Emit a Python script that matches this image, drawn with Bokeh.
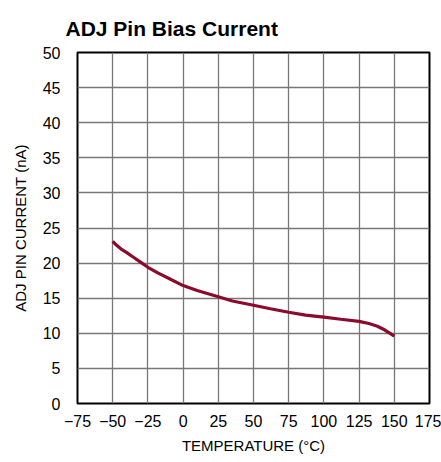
from bokeh.plotting import figure
from bokeh.models import FixedTicker, Range1d
from bokeh.embed import file_html
from bokeh.resources import INLINE

temperature = [-50, -47, -44, -40, -35, -30, -25, -18, -10, 0, 10, 25, 35, 50, 62, 75, 87, 100, 112, 125, 132, 138, 143, 147, 150]
current = [23.1, 22.5, 22.0, 21.5, 20.8, 20.1, 19.4, 18.6, 17.8, 16.8, 16.1, 15.2, 14.6, 14.0, 13.5, 13.0, 12.6, 12.3, 12.0, 11.7, 11.4, 11.0, 10.5, 10.0, 9.6]
x_ticks = [-75, -50, -25, 0, 25, 50, 75, 100, 125, 150, 175]
y_ticks = [0, 5, 10, 15, 20, 25, 30, 35, 40, 45, 50]
title_text = "ADJ Pin Bias Current"

FONT = "Liberation Sans"

p = figure(width=441, height=462, output_backend="svg", toolbar_location=None,
           x_range=Range1d(-75, 175), y_range=Range1d(0, 50),
           min_border_left=77, min_border_right=12, min_border_top=52, min_border_bottom=59)
p.title.text = title_text
p.title.text_font = FONT
p.title.text_font_size = "21px"
p.title.text_font_style = "bold"
p.title.offset = -12
p.title.vertical_align = "bottom"
p.title.standoff = 26
p.title.text_color = "black"

p.line(temperature, current, line_color="#8c0a2e", line_width=3.2)

p.xaxis.ticker = FixedTicker(ticks=x_ticks)
p.yaxis.ticker = FixedTicker(ticks=y_ticks)
p.xaxis.major_label_overrides = {t: (("\u2212" + str(-t)) if t < 0 else str(t)) for t in x_ticks}
for ax in (p.xaxis[0], p.yaxis[0]):
    ax.axis_line_color = None
    ax.major_tick_line_color = None
    ax.minor_tick_line_color = None
    ax.major_label_text_font = FONT
    ax.major_label_text_font_size = "16px"
    ax.major_label_text_color = "black"
    ax.axis_label_text_font = FONT
    ax.axis_label_text_font_size = "15px"
    ax.axis_label_text_font_style = "normal"
    ax.axis_label_text_color = "black"
p.xaxis.axis_label = "TEMPERATURE (\u00b0C)"
p.yaxis.axis_label = "ADJ PIN CURRENT (nA)"
p.xaxis.major_label_standoff = 5
p.yaxis.major_label_standoff = 11
p.xaxis.axis_label_standoff = 7
p.yaxis.axis_label_standoff = 11

p.grid.grid_line_color = "#777777"
p.grid.grid_line_width = 1.3
p.grid.grid_line_alpha = 1.0
p.outline_line_color = "black"
p.outline_line_width = 2
p.outline_line_alpha = 1.0
p.background_fill_color = "white"
p.border_fill_color = "white"

open("out.html", "w").write(file_html(p, INLINE))
